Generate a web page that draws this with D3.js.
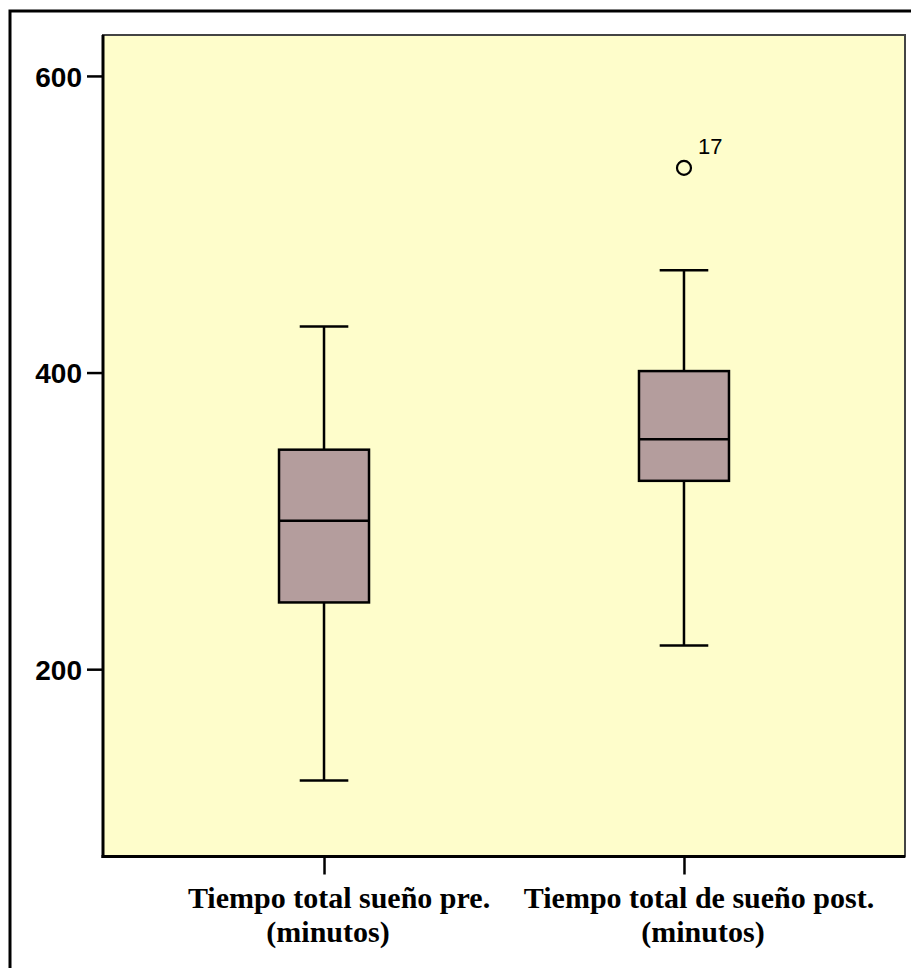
<!DOCTYPE html>
<html>
<head>
<meta charset="utf-8">
<script src="https://cdn.jsdelivr.net/npm/d3@7"></script>
<style>
  body { margin: 0; background: #fff; }
  svg { display: block; }
</style>
</head>
<body>
<div id="chart"></div>
<script>
// chart data
const categories = ["pre", "post"];
const labelLines = [["Tiempo total sueño pre.", "(minutos)"], ["Tiempo total de sueño post.", "(minutos)"]];
const whiskerLow = [125, 216];
const q1 = [245, 327];
const medians = [300, 355];
const q3 = [348, 401];
const whiskerHigh = [431, 469];
const outliers = [{ cat: "post", value: 538, label: "17" }];
const yTicks = [200, 400, 600];

const W = 911, H = 968;
const plot = { left: 103, top: 35, right: 905, bottom: 856.5 };

const svg = d3.select("#chart").append("svg")
  .attr("width", W)
  .attr("height", H);

// outer frame (runs off the right and bottom edge)
svg.append("rect")
  .attr("x", 10).attr("y", 11)
  .attr("width", 1000).attr("height", 1000)
  .attr("fill", "#fff")
  .attr("stroke", "#000")
  .attr("stroke-width", 3);

const y = d3.scaleLinear()
  .domain([73.7, 627.6])
  .range([plot.bottom, plot.top]);

const x = d3.scalePoint()
  .domain(categories)
  .range([plot.left, plot.right])
  .padding(0.614);

const boxW = x.step() * 0.25;
const capW = boxW * 0.27;

// plot background
svg.append("rect")
  .attr("x", plot.left).attr("y", plot.top)
  .attr("width", plot.right - plot.left)
  .attr("height", plot.bottom - plot.top)
  .attr("fill", "#fefdcb")
  .attr("stroke", "#444")
  .attr("stroke-width", 2);

// y axis
const yAxis = svg.append("g")
  .attr("transform", "translate(" + plot.left + ",0)")
  .call(d3.axisLeft(y).tickValues(yTicks).tickSize(16).tickPadding(5));
yAxis.select(".domain").remove();
yAxis.selectAll(".tick line").attr("stroke", "#000").attr("stroke-width", 2.5);
yAxis.selectAll(".tick text")
  .attr("fill", "#000")
  .attr("dy", "0.36em")
  .style("font-family", "'Liberation Sans', Arial, sans-serif")
  .style("font-weight", "bold")
  .style("font-size", "28px");
yAxis.append("line")
  .attr("y1", plot.top).attr("y2", plot.bottom + 1.5)
  .attr("stroke", "#000").attr("stroke-width", 3);

// x axis
const xAxis = svg.append("g")
  .attr("transform", "translate(0," + plot.bottom + ")")
  .call(d3.axisBottom(x).tickSize(18).tickFormat(""));
xAxis.select(".domain").remove();
xAxis.selectAll(".tick line").attr("stroke", "#000").attr("stroke-width", 2.5);
xAxis.append("line")
  .attr("x1", plot.left - 1.5).attr("x2", plot.right)
  .attr("stroke", "#000").attr("stroke-width", 3);

// category labels, two lines each
const labelShift = [[15, 4], [15, 19]];
const labels = svg.append("g")
  .style("font-family", "'Liberation Serif', 'Times New Roman', serif")
  .style("font-weight", "bold")
  .style("font-size", "30px")
  .attr("text-anchor", "middle");
categories.forEach((c, i) => {
  labelLines[i].forEach((line, j) => {
    labels.append("text")
      .attr("x", x(c) + labelShift[i][j])
      .attr("y", 908 + j * 34)
      .text(line);
  });
});

// boxes
const boxes = svg.selectAll(".box")
  .data(categories)
  .enter()
  .append("g")
  .attr("class", "box");

boxes.append("line")
  .attr("x1", d => x(d)).attr("x2", d => x(d))
  .attr("y1", (d, i) => y(whiskerHigh[i]))
  .attr("y2", (d, i) => y(q3[i]))
  .attr("stroke", "#000").attr("stroke-width", 2.5);

boxes.append("line")
  .attr("x1", d => x(d)).attr("x2", d => x(d))
  .attr("y1", (d, i) => y(q1[i]))
  .attr("y2", (d, i) => y(whiskerLow[i]))
  .attr("stroke", "#000").attr("stroke-width", 2.5);

boxes.append("line")
  .attr("x1", d => x(d) - capW).attr("x2", d => x(d) + capW)
  .attr("y1", (d, i) => y(whiskerHigh[i]))
  .attr("y2", (d, i) => y(whiskerHigh[i]))
  .attr("stroke", "#000").attr("stroke-width", 2.5);

boxes.append("line")
  .attr("x1", d => x(d) - capW).attr("x2", d => x(d) + capW)
  .attr("y1", (d, i) => y(whiskerLow[i]))
  .attr("y2", (d, i) => y(whiskerLow[i]))
  .attr("stroke", "#000").attr("stroke-width", 2.5);

boxes.append("rect")
  .attr("x", d => x(d) - boxW / 2)
  .attr("y", (d, i) => y(q3[i]))
  .attr("width", boxW)
  .attr("height", (d, i) => y(q1[i]) - y(q3[i]))
  .attr("fill", "#b49d9d")
  .attr("stroke", "#000").attr("stroke-width", 2.5);

boxes.append("line")
  .attr("x1", d => x(d) - boxW / 2).attr("x2", d => x(d) + boxW / 2)
  .attr("y1", (d, i) => y(medians[i]))
  .attr("y2", (d, i) => y(medians[i]))
  .attr("stroke", "#000").attr("stroke-width", 2.5);

// outliers
svg.selectAll(".outlier")
  .data(outliers)
  .enter()
  .append("circle")
  .attr("class", "outlier")
  .attr("cx", d => x(d.cat))
  .attr("cy", d => y(d.value))
  .attr("r", 7)
  .attr("fill", "none")
  .attr("stroke", "#000")
  .attr("stroke-width", 2.2);

svg.selectAll(".outlier-label")
  .data(outliers)
  .enter()
  .append("text")
  .attr("class", "outlier-label")
  .attr("x", d => x(d.cat) + 14)
  .attr("y", d => y(d.value) - 14)
  .style("font-family", "'Liberation Sans', Arial, sans-serif")
  .style("font-size", "22px")
  .text(d => d.label);
</script>
</body>
</html>
